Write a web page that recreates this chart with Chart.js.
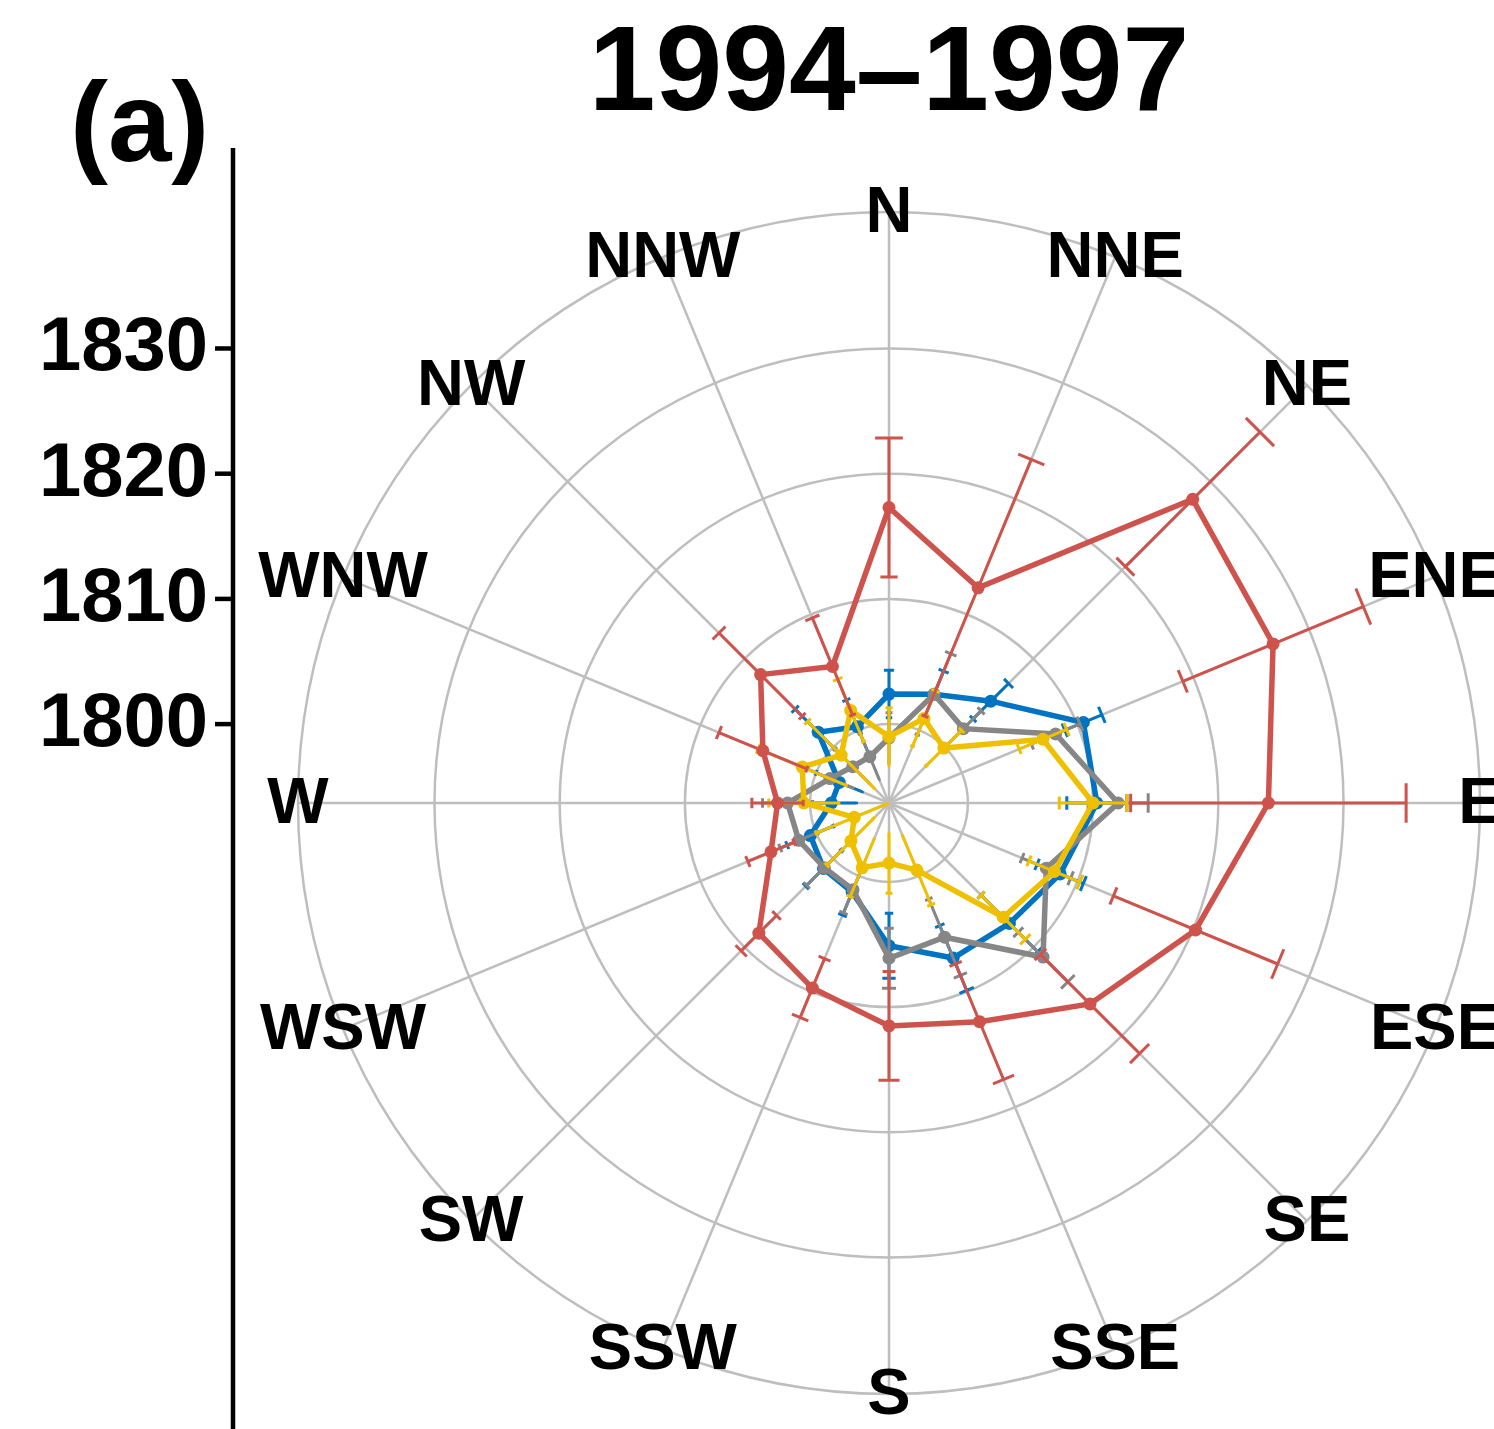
<!DOCTYPE html>
<html lang="en"><head>
<meta charset="utf-8"/>
<title>1994–1997 radar</title>
<script src="https://cdn.jsdelivr.net/npm/chart.js"></script>
<style>
  html, body { margin: 0; padding: 0; background: #fff; overflow: hidden; }
  #wrap { width: 1494px; height: 1429px; position: relative; }
</style>
</head>
<body>
<div id="wrap"><canvas id="radarChart"></canvas></div>
<script>
  // wind directions, clockwise from north
  const directions = ['N','NNE','NE','ENE','E','ESE','SE','SSE','S','SSW','SW','WSW','W','WNW','NW','NNW'];

  const redValues    = [1817.3, 1812.3, 1828.0, 1826.9, 1824.0, 1820.2, 1816.4, 1812.6, 1811.5, 1809.7, 1808.4, 1803.9, 1802.6, 1804.6, 1808.2, 1805.5];
  const redErrors    = [5.55, 11.1, 7.6, 7.8, 11.0, 7.1, 5.6, 5.0, 4.35, 2.55, 2.0, 2.0, 2.05, 3.8, 4.7, 4.2];
  const blueValues   = [1802.4, 1803.1, 1805.2, 1810.5, 1810.3, 1808.5, 1807.3, 1807.1, 1805.1, 1801.4, 1801.1, 1800.5, 1798.3, 1798.0, 1801.7, 1800.3];
  const blueErrors   = [1.9, 2.0, 2.0, 1.6, 2.4, 2.0, 3.2, 2.8, 2.6, 2.0, 2.0, 2.0, 2.0, 2.0, 2.6, 2.3];
  const grayValues   = [1798.9, 1803.1, 1802.1, 1808.1, 1812.0, 1807.3, 1811.1, 1805.3, 1806.1, 1801.2, 1801.0, 1801.5, 1801.8, 1798.8, 1797.8, 1797.7];
  const grayErrors   = [2.0, 3.5, 2.0, 2.1, 2.4, 2.1, 2.8, 3.3, 2.4, 2.0, 2.0, 1.6, 2.0, 2.0, 2.0, 2.0];
  const yellowValues = [1799.0, 1801.0, 1799.9, 1807.0, 1810.0, 1808.0, 1806.6, 1799.5, 1798.5, 1799.3, 1798.0, 1796.7, 1800.5, 1801.2, 1799.1, 1801.7];
  const yellowErrors = [2.3, 2.4, 2.0, 2.05, 2.7, 2.2, 2.5, 3.0, 2.4, 2.5, 2.7, 3.3, 2.8, 3.8, 3.8, 2.7];

  const ringValues = [1800, 1810, 1820, 1830];
  const rMin = 1793.7;
  const rMax = 1840.9;

  const FONT = "'Liberation Sans', Arial, Helvetica, sans-serif";
  const capFrac = 0.038;

  function series(values, errors, color) {
    return {
      data: values,
      errors: errors,
      borderColor: color,
      backgroundColor: color,
      pointBackgroundColor: color,
      pointBorderWidth: 0,
      pointRadius: 6.5,
      borderWidth: 5.5,
      fill: false,
      tension: 0
    };
  }

  // error bars: radial segment plus caps, drawn right after each dataset
  const errorBars = {
    id: 'errorBars',
    afterDatasetDraw(chart, args) {
      const ds = chart.data.datasets[args.index];
      const r = chart.scales.r;
      const ctx = chart.ctx;
      ctx.save();
      ctx.strokeStyle = ds.borderColor;
      ctx.lineWidth = 3;
      ds.data.forEach((v, i) => {
        const e = ds.errors[i];
        const lo = Math.max(v - e, r.min);
        const d1 = r.getDistanceFromCenterForValue(lo);
        const d2 = r.getDistanceFromCenterForValue(v + e);
        const p1 = r.getPointPosition(i, d1);
        const p2 = r.getPointPosition(i, d2);
        const nx = -Math.sin(p2.angle), ny = Math.cos(p2.angle);
        ctx.beginPath();
        ctx.moveTo(p1.x, p1.y);
        ctx.lineTo(p2.x, p2.y);
        const caps = v - e > r.min ? [[p1, d1], [p2, d2]] : [[p2, d2]];
        caps.forEach(([p, d]) => {
          const h = d * capFrac;
          ctx.moveTo(p.x - nx * h, p.y - ny * h);
          ctx.lineTo(p.x + nx * h, p.y + ny * h);
        });
        ctx.stroke();
      });
      ctx.restore();
    }
  };

  // direction labels centred on the outer ring, left value axis, panel tag
  const decorations = {
    id: 'decorations',
    afterDraw(chart) {
      const r = chart.scales.r;
      const ctx = chart.ctx;
      ctx.save();
      ctx.fillStyle = '#000';
      ctx.font = 'bold 65px ' + FONT;
      ctx.textAlign = 'center';
      ctx.textBaseline = 'middle';
      directions.forEach((lab, i) => {
        const p = r.getPointPosition(i, r.drawingArea);
        ctx.fillText(lab, p.x, p.y + 2);
      });

      const axisX = 233;
      ctx.strokeStyle = '#000';
      ctx.lineWidth = 4.5;
      ctx.beginPath();
      ctx.moveTo(axisX, 148);
      ctx.lineTo(axisX, chart.height);
      ctx.stroke();
      ctx.font = 'bold 76px ' + FONT;
      ctx.textAlign = 'right';
      ringValues.forEach(v => {
        const y = r.yCenter - r.getDistanceFromCenterForValue(v);
        ctx.beginPath();
        ctx.moveTo(axisX - 18, y);
        ctx.lineTo(axisX, y);
        ctx.stroke();
        ctx.fillText(String(v), 208, y + 1);
      });

      ctx.font = 'bold 114px ' + FONT;
      ctx.textAlign = 'left';
      ctx.textBaseline = 'alphabetic';
      ctx.fillText('(a)', 70, 161);
      ctx.restore();
    }
  };

  const ctx = document.getElementById('radarChart').getContext('2d');
  new Chart(ctx, {
    type: 'radar',
    data: {
      labels: directions,
      datasets: [
        series(redValues, redErrors, '#CD534C'),
        series(yellowValues, yellowErrors, '#EFC000'),
        series(grayValues, grayErrors, '#868686'),
        series(blueValues, blueErrors, '#0073C2')
      ]
    },
    options: {
      responsive: true,
      maintainAspectRatio: false,
      animation: false,
      layout: { padding: { left: 298, right: 14, top: 0, bottom: 35 } },
      scales: {
        r: {
          min: rMin,
          max: rMax,
          startAngle: 0,
          afterBuildTicks: (scale) => {
            scale.ticks = [rMin, ...ringValues, rMax].map(v => ({ value: v }));
          },
          ticks: { display: false },
          pointLabels: { display: false },
          grid: { circular: true, color: '#BEBEBE', lineWidth: 2.5 },
          angleLines: { color: '#BEBEBE', lineWidth: 2.5 }
        }
      },
      plugins: {
        legend: { display: false },
        tooltip: { enabled: false },
        title: {
          display: true,
          text: '1994–1997',
          color: '#000',
          font: { family: FONT, size: 120, weight: 'bold', lineHeight: 1 },
          padding: { top: 17, bottom: 75 }
        }
      }
    },
    plugins: [errorBars, decorations]
  });
</script>
</body></html>
